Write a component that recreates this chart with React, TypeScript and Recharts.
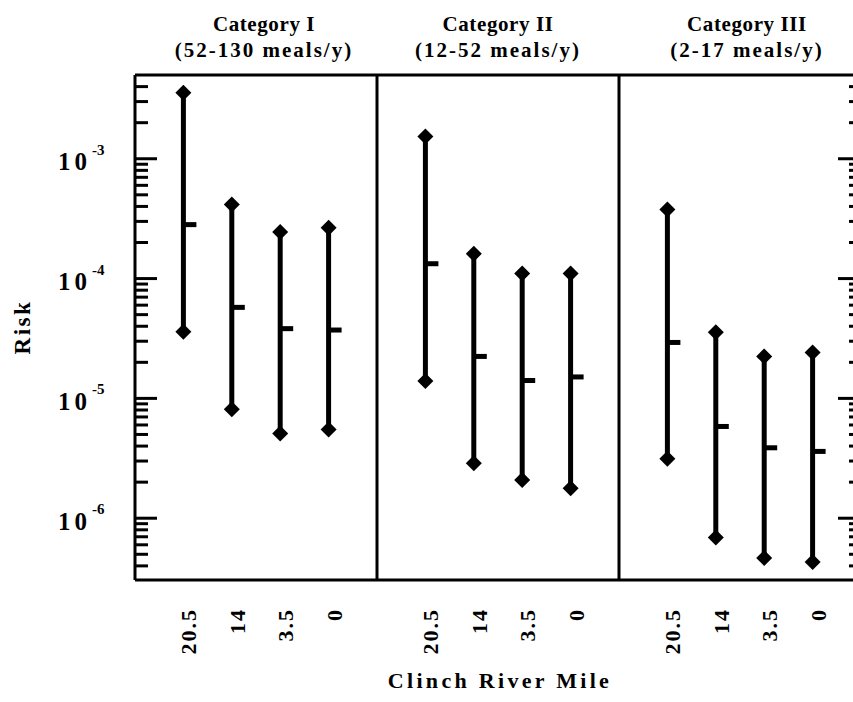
import React from 'react';
import { ComposedChart, Scatter, XAxis, YAxis, ErrorBar, ReferenceLine } from 'recharts';

// ---- data ----
const riverMiles = ['20.5', '14', '3.5', '0'];
const categoryNames = ['Category I', 'Category II', 'Category III'];
const categoryRanges = ['(52-130 meals/y)', '(12-52 meals/y)', '(2-17 meals/y)'];

const catIHigh = [3.56e-3, 4.15e-4, 2.45e-4, 2.65e-4];
const catIMean = [2.82e-4, 5.75e-5, 3.82e-5, 3.72e-5];
const catILow = [3.6e-5, 8.1e-6, 5.1e-6, 5.5e-6];

const catIIHigh = [1.53e-3, 1.61e-4, 1.1e-4, 1.1e-4];
const catIIMean = [1.33e-4, 2.24e-5, 1.41e-5, 1.51e-5];
const catIILow = [1.4e-5, 2.88e-6, 2.08e-6, 1.78e-6];

const catIIIHigh = [3.77e-4, 3.56e-5, 2.24e-5, 2.42e-5];
const catIIIMean = [2.93e-5, 5.83e-6, 3.87e-6, 3.61e-6];
const catIIILow = [3.13e-6, 6.89e-7, 4.66e-7, 4.31e-7];

const yMajorExponents = [-6, -5, -4, -3];
const yDomain: [number, number] = [3.05e-7, 5.0e-3];

// ---- derived table ----
const seriesByCategory = [
  { high: catIHigh, mean: catIMean, low: catILow },
  { high: catIIHigh, mean: catIIMean, low: catIILow },
  { high: catIIIHigh, mean: catIIIMean, low: catIIILow },
];
const slots = riverMiles.length + 1;

type Row = { x: number; mile: string; high: number; mean: number; low: number; err: [number, number] };
const rows: Row[] = [];
seriesByCategory.forEach((s, ci) => {
  riverMiles.forEach((m, mi) => {
    rows.push({
      x: ci * slots + mi + 1,
      mile: m,
      high: s.high[mi],
      mean: s.mean[mi],
      low: s.low[mi],
      err: [s.mean[mi] - s.low[mi], s.high[mi] - s.mean[mi]],
    });
  });
});
const xDomain: [number, number] = [0, categoryNames.length * slots];
const dividers = categoryNames.slice(1).map((_, i) => (i + 1) * slots);
const titleTicks = categoryNames.map((_, i) => i * slots + slots / 2);

const yTicks: number[] = [];
for (let e = -7; e <= -3; e++) {
  for (let k = 1; k <= 9; k++) {
    const v = k * Math.pow(10, e);
    if (v >= yDomain[0] && v <= yDomain[1] * 0.995) yTicks.push(v);
  }
}
const isMajor = (v: number) => {
  const e = Math.round(Math.log10(v));
  return Math.abs(v - Math.pow(10, e)) / v < 1e-6 && yMajorExponents.includes(e);
};

const FONT = "'Liberation Serif', 'Times New Roman', serif";

const LeftTick = (props: any) => {
  const { x, y, payload } = props;
  const v = payload.value;
  const major = isMajor(v);
  const e = Math.round(Math.log10(v));
  return (
    <g>
      <line x1={x} x2={x + (major ? 22 : 13)} y1={y} y2={y} stroke="#000" strokeWidth={3} />
      {major && (
        <g fontFamily={FONT} fontWeight={700} fill="#000">
          <text x={x - 77} y={y + 11.5} fontSize={25} letterSpacing={4} textAnchor="start">10</text>
          <text x={x - 43} y={y - 4} fontSize={15} textAnchor="start">{String(e)}</text>
        </g>
      )}
    </g>
  );
};

const RightTick = (props: any) => {
  const { x, y, payload } = props;
  const major = isMajor(payload.value);
  return <line x1={x} x2={x - (major ? 23 : 12)} y1={y} y2={y} stroke="#000" strokeWidth={3} />;
};

const BottomTick = (props: any) => {
  const { x, y, payload } = props;
  const row = rows.find((r) => Math.abs(r.x - payload.value) < 1e-6);
  if (!row) return null;
  return (
    <text
      transform={`translate(${x + 13},${y + 28}) rotate(-90)`}
      textAnchor="end"
      fontFamily={FONT}
      fontWeight={700}
      fontSize={22}
      letterSpacing={2}
      fill="#000"
    >
      {row.mile}
    </text>
  );
};

const titleOffsets = [8, 0, 7];
const TitleLabel = (props: any) => {
  const { viewBox, index } = props;
  if (!viewBox) return null;
  const cx = viewBox.x + titleOffsets[index];
  return (
    <g fontFamily={FONT} fontWeight={700} fill="#000" fontSize={21}>
      <text x={cx} y={31} textAnchor="middle" letterSpacing={0.6}>{categoryNames[index]}</text>
      <text x={cx} y={57} textAnchor="middle" letterSpacing={2}>{categoryRanges[index]}</text>
    </g>
  );
};

const Diamond = (props: any) => {
  const { cx, cy } = props;
  if (cx == null || cy == null) return null;
  const r = 8;
  return <path d={`M${cx},${cy - r}L${cx + r},${cy}L${cx},${cy + r}L${cx - r},${cy}Z`} fill="#000" />;
};

const MeanTick = (props: any) => {
  const { cx, cy } = props;
  if (cx == null || cy == null) return null;
  return <rect x={cx} y={cy - 2.5} width={13} height={5} fill="#000" />;
};

export default function App() {
  return (
    <div style={{ position: 'absolute', left: 0, top: 0, width: 853, height: 702, overflow: 'hidden', background: '#fff' }}>
      <ComposedChart width={870} height={702} data={rows} margin={{ top: 0, right: 0, bottom: 0, left: 0 }}>
        <XAxis
          dataKey="x"
          type="number"
          domain={xDomain}
          ticks={rows.map((r) => r.x)}
          interval={0}
          height={122}
          axisLine={{ stroke: '#000', strokeWidth: 3 }}
          tickLine={false}
          tickSize={0}
          tickMargin={0}
          tick={<BottomTick />}
          allowDataOverflow
        />
        <XAxis
          xAxisId="top"
          orientation="top"
          type="number"
          domain={xDomain}
          height={75}
          axisLine={{ stroke: '#000', strokeWidth: 3 }}
          tickLine={false}
          tick={false}
          allowDataOverflow
        />
        <YAxis
          scale="log"
          type="number"
          domain={yDomain}
          ticks={yTicks}
          interval={0}
          width={135}
          axisLine={{ stroke: '#000', strokeWidth: 3 }}
          tickLine={false}
          tickSize={0}
          tickMargin={0}
          tick={<LeftTick />}
          allowDataOverflow
        />
        <YAxis
          yAxisId="right"
          orientation="right"
          scale="log"
          type="number"
          domain={yDomain}
          ticks={yTicks}
          interval={0}
          width={9}
          axisLine={false}
          tickLine={false}
          tickSize={0}
          tickMargin={0}
          tick={<RightTick />}
          allowDataOverflow
        />
        {dividers.map((d) => (
          <ReferenceLine key={d} x={d} stroke="#000" strokeWidth={3} />
        ))}
        {titleTicks.map((t, i) => (
          <ReferenceLine key={`t${t}`} x={t} stroke="#000" strokeOpacity={0} label={<TitleLabel index={i} />} />
        ))}
        <Scatter dataKey="mean" isAnimationActive={false} shape={<MeanTick />}>
          <ErrorBar dataKey="err" direction="y" width={0} stroke="#000" strokeWidth={5} isAnimationActive={false} />
        </Scatter>
        <Scatter dataKey="high" isAnimationActive={false} shape={<Diamond />} />
        <Scatter dataKey="low" isAnimationActive={false} shape={<Diamond />} />
      </ComposedChart>
      <svg width={60} height={702} style={{ position: 'absolute', left: 0, top: 0, pointerEvents: 'none' }}>
        <text
          transform="translate(29.5,327) rotate(-90)"
          textAnchor="middle"
          fontFamily={FONT}
          fontWeight={700}
          fontSize={23}
          letterSpacing={2.5}
          fill="#000"
        >
          Risk
        </text>
      </svg>
      <svg width={853} height={40} style={{ position: 'absolute', left: 0, top: 662, pointerEvents: 'none' }}>
        <text x={500} y={26} textAnchor="middle" fontFamily={FONT} fontWeight={700} fontSize={22} letterSpacing={3.3} fill="#000">
          Clinch River Mile
        </text>
      </svg>
    </div>
  );
}
